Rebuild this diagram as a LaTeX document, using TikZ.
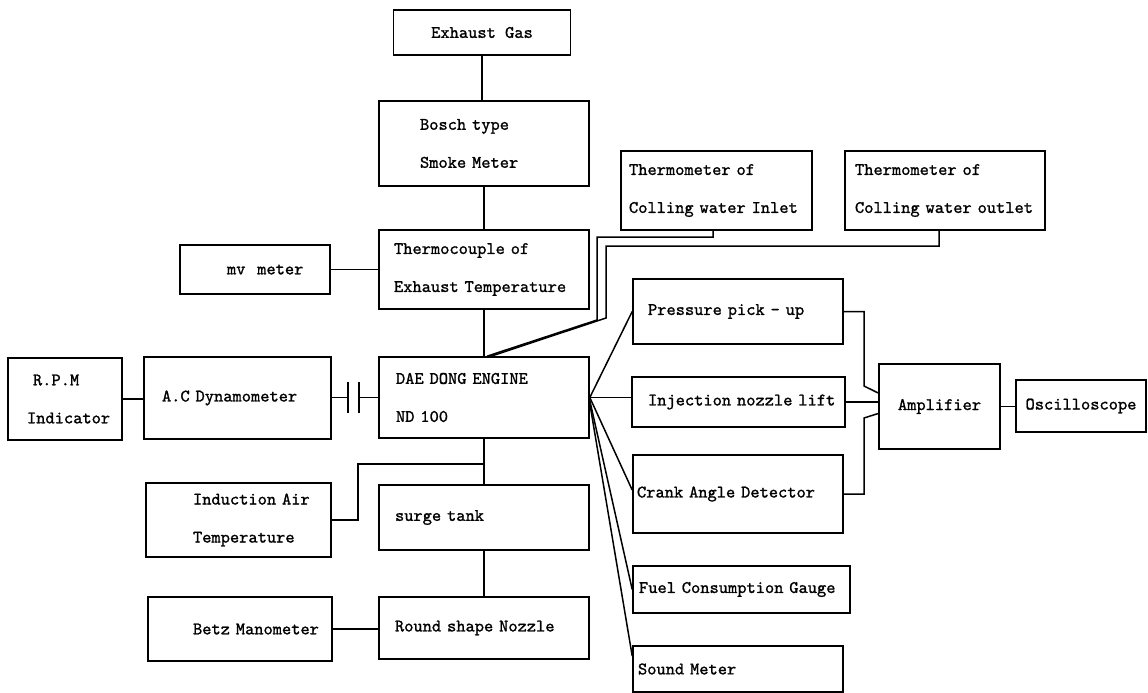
\documentclass[tikz,border=0pt]{standalone}
\usepackage{fontspec}
\newfontfamily\typer{lmmono10-regular.otf}[FakeBold=1.2]
\newcommand\boxfont{\fontsize{17.6}{38}\selectfont\typer}
\tikzset{
  bx/.style={draw, line width=1.6pt, inner sep=0pt, font=\boxfont},
  cb/.style 2 args={bx, align=center, minimum width=#1, minimum height=#2},
  lb/.style n args={3}{bx, align=left, text width=#1, minimum width=#1, minimum height=#2, execute at begin node={\leftskip=#3\relax}},
  wire/.style={line width=1.5pt},
}
\begin{document}
\begin{tikzpicture}[x=1pt, y=-1pt]
  \useasboundingbox (0,0) rectangle (1148,693);
  % centre column
  \node[cb={177pt}{45pt}] (gas) at (482,32.5) {Exhaust Gas};
  \node[lb={210pt}{85pt}{41pt}] (bosch) at (484,143.5) {Bosch type\\Smoke Meter};
  \node[lb={210pt}{79pt}{15pt}] (thermo) at (484,269.5) {Thermocouple of\\Exhaust Temperature};
  \node[lb={210pt}{81pt}{17pt}] (engine) at (484,397.5) {DAE DONG ENGINE\\ND 100};
  \node[lb={210pt}{65pt}{16pt}] (surge) at (484,517.5) {surge tank};
  \node[lb={210pt}{62pt}{16pt}] (rnd) at (484,628) {Round shape Nozzle};
  % left side
  \node[lb={150pt}{49pt}{47pt}] (mv) at (255,269.5) {mv~~meter};
  \node[lb={114pt}{82pt}{19pt}] (rpm) at (65,399) {\hspace*{6pt}R.P.M\\Indicator};
  \node[lb={187pt}{82pt}{18pt}] (dyn) at (237.5,398) {A.C Dynamometer};
  \node[lb={185pt}{74pt}{47pt}] (air) at (238.5,520) {Induction Air\\Temperature};
  \node[lb={184pt}{64pt}{45pt}] (betz) at (240,629) {Betz Manometer};
  % right side
  \node[lb={191pt}{79pt}{8pt}] (inlet) at (716.5,190.5) {Thermometer of\\Colling water Inlet};
  \node[lb={200pt}{79pt}{10pt}] (outlet) at (945,190.5) {Thermometer of\\Colling water outlet};
  \node[lb={210pt}{65pt}{15pt}] (pressure) at (738,311.5) {Pressure pick - up};
  \node[lb={213pt}{50pt}{16pt}] (lift) at (738.5,402) {Injection nozzle lift};
  \node[lb={210pt}{78pt}{4pt}] (crank) at (738,494) {Crank Angle Detector};
  \node[lb={217pt}{47pt}{6pt}] (fuel) at (741.5,589.5) {Fuel Consumption Gauge};
  \node[lb={210pt}{46pt}{5pt}] (sound) at (738,669) {Sound Meter};
  \node[cb={121pt}{85pt}] (amp) at (939.5,406.5) {Amplifier};
  \node[cb={130pt}{52pt}] (osc) at (1081,406) {Oscilloscope};

  % bends and joints
  \coordinate (tap) at (484,464);
  \coordinate (bend) at (358,464);
  \coordinate (capL) at (348,397.5);
  \coordinate (capR) at (359,397.5);
  \coordinate (inB) at (597,237);
  \coordinate (inC) at (597,320);
  \coordinate (outB) at (606,246);
  \coordinate (outC) at (606,318);
  \coordinate (pj) at (864,386);
  \coordinate (cj) at (864,418);

  \draw[wire] (gas.south) -- (gas.south |- bosch.north);
  \draw[wire] (bosch) -- (thermo);
  \draw[wire] (thermo) -- (engine);
  \draw[wire] (engine) -- (surge);
  \draw[wire] (surge) -- (rnd);
  \draw[wire] (air.east) -| (bend) -- (tap);
  \draw[wire] (mv) -- (thermo);
  \draw[wire] (betz.east) -- (betz.east -| rnd.west);
  \draw[wire] (rpm.east) -- (rpm.east -| dyn.west);
  % coupling
  \draw[wire] (capL -| dyn.east) -- (capL);
  \draw[wire] (capR) -- (engine.west);
  \draw[wire] ([yshift=15.5pt]capL) -- ([yshift=-15.5pt]capL);
  \draw[wire] ([yshift=15.5pt]capR) -- ([yshift=-15.5pt]capR);
  % cooling water
  \draw[wire] ([xshift=-3.5pt]inlet.south) |- (inB) -- (inC) -- ([xshift=3pt]engine.north);
  \draw[wire] ([xshift=-6pt]outlet.south) |- (outB) -- (outC) -- ([xshift=7pt]engine.north);
  % pick-ups
  \draw[wire] (engine.east) -- (pressure.west);
  \draw[wire] (engine.east) -- (engine.east -| lift.west);
  \draw[wire] (engine.east) -- ([yshift=4pt]crank.west);
  \draw[wire] ([yshift=-3pt]engine.east) -- (fuel.west);
  \draw[wire] ([yshift=-6pt]engine.east) -- ([yshift=13pt]sound.west);
  % amplifier
  \draw[wire] (pressure.east) -| (pj) -- ([yshift=13.5pt]amp.west);
  \draw[wire] (lift.east) -- (lift.east -| amp.west);
  \draw[wire] (crank.east) -| (cj) -- ([yshift=-7pt]amp.west);
  \draw[wire] (amp.east) -- (amp.east -| osc.west);
\end{tikzpicture}
\end{document}
